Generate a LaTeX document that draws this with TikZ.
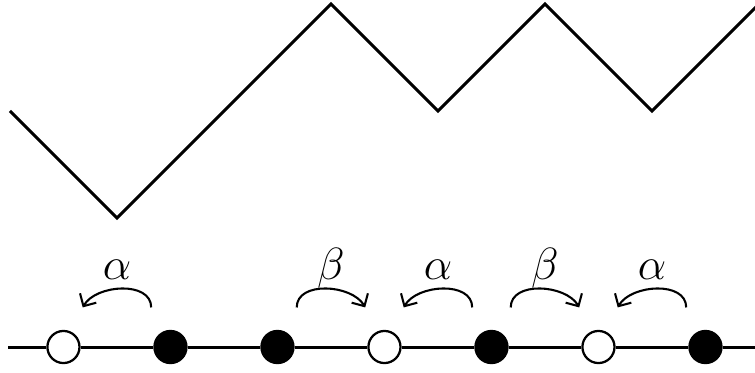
\documentclass[tikz,border=0pt]{standalone}
\usepackage{amsmath,amssymb}
\usepackage{tikz}
\usetikzlibrary{arrows.meta,calc,positioning}

\tikzset{
  sito/.style={circle, draw, line width=0.6pt, minimum size=0.3cm, inner sep=0pt},
  vuoto/.style={sito, fill=white},
  pieno/.style={sito, fill=black},
  salto/.style={line width=0.55pt, -{Straight Barb[length=2.5pt,width=5pt]}},
}

\begin{document}
\begin{tikzpicture}
\useasboundingbox (0,0) rectangle (7.056,3.477);
\clip (0,0) rectangle (7.056,3.477);
% --- profilo di altezza ---
\draw[line width=0.8pt] (0.093,2.44) -- ++(1,-1) -- ++(2,2) -- ++(1,-1) -- ++(1,1) -- ++(1,-1) -- ++(1,1);
% --- catena di siti ---
\foreach \i/\tipo in {1/vuoto,2/pieno,3/pieno,4/vuoto,5/pieno,6/vuoto,7/pieno}
  \node[\tipo] (s\i) at ({0.593+\i-1},0.234) {};
\coordinate (inizio) at (0.075,0.234);
\coordinate (fine) at (7.2,0.234);
\draw[line width=0.8pt] (inizio) -- (s1) -- (s2) -- (s3) -- (s4) -- (s5) -- (s6) -- (s7) -- (fine);
% --- salti con tassi ---
\foreach \da/\a/\ina/\lab in {2/1/60/\alpha, 3/4/120/\beta, 5/4/60/\alpha, 5/6/120/\beta, 7/6/60/\alpha}{
  \draw[salto] ($(s\da)!0.18!(s\a)+(0,0.37)$) to[out=90,in=\ina] ($(s\da)!0.82!(s\a)+(0,0.37)$);
  \node[anchor=base, font=\large] at ($(s\da)!0.5!(s\a)+(0,0.63)$) {$\lab$};
}
\end{tikzpicture}
\end{document}
